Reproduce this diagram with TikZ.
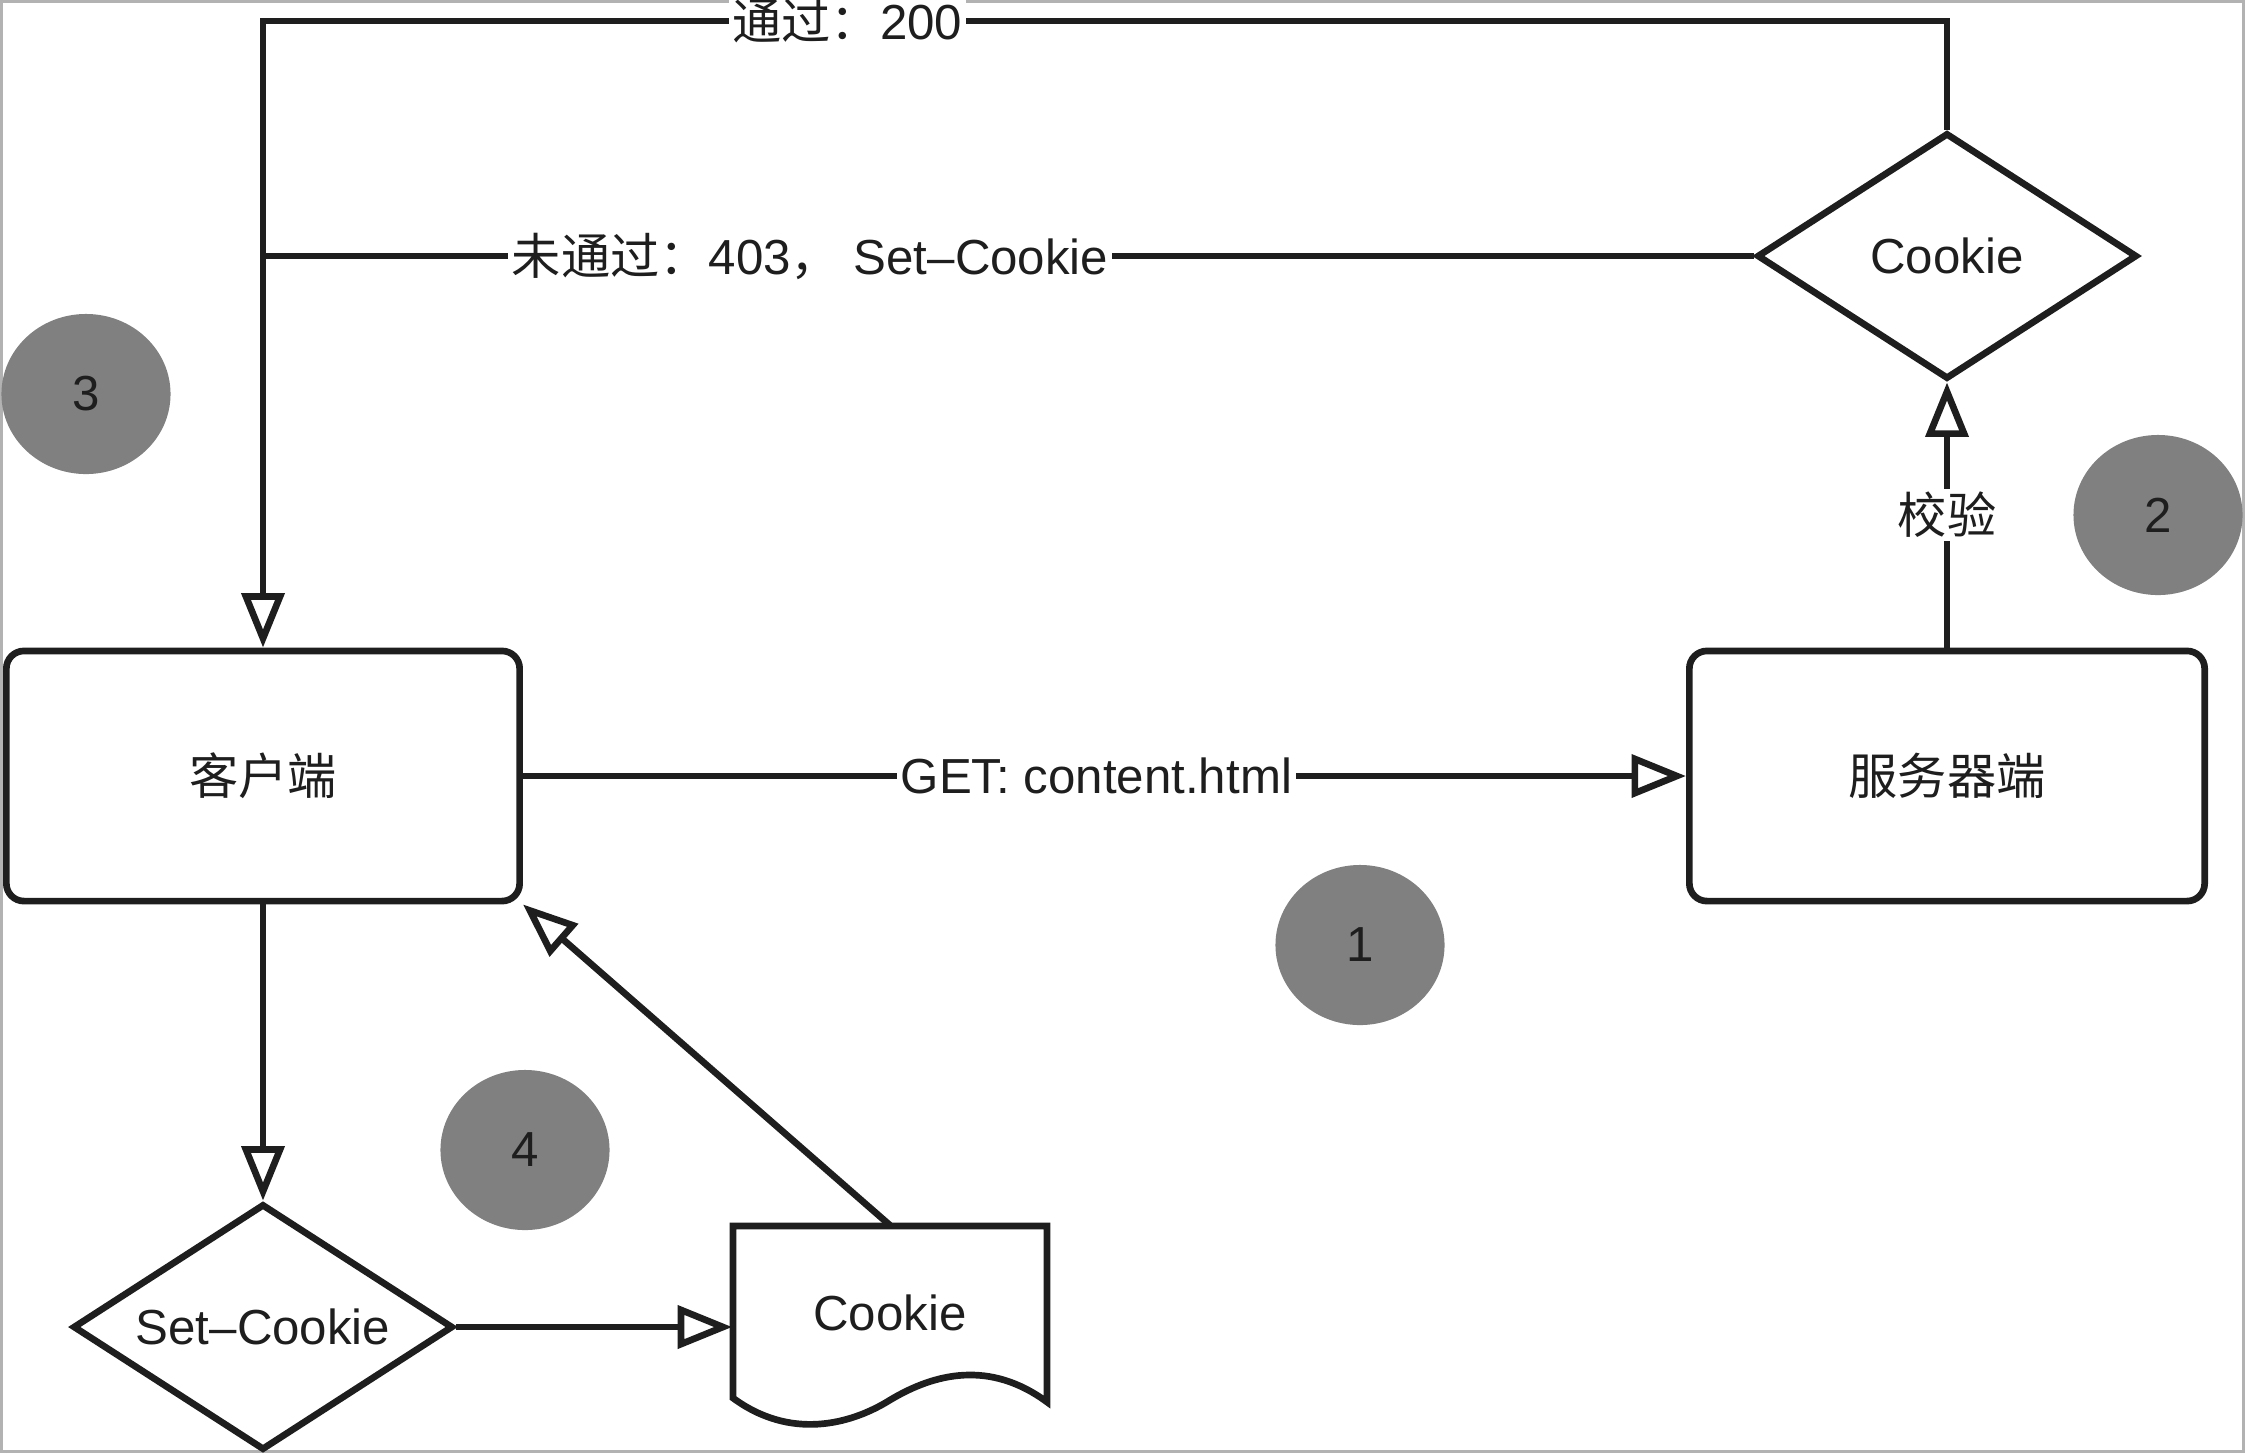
\documentclass[tikz,border=0pt]{standalone}
\usepackage{fontspec}
\setmainfont{Liberation Sans}
\newfontfamily\cjk{Noto Sans CJK SC}
\usetikzlibrary{arrows.meta,shapes.geometric}
\definecolor{badgegray}{HTML}{808080}
\definecolor{ink}{HTML}{1E1E1E}
\begin{document}
\begin{tikzpicture}[x=0.01cm,y=-0.01cm,
  every node/.style={font=\fontsize{14}{17}\selectfont, text=ink},
  ln/.style={line width=1.9pt, draw=ink},
  arr/.style={ln, -{Triangle[length=15.5pt,width=12pt,fill=white]}},
  box/.style={ln, rounded corners=5pt, minimum width=5.13cm, minimum height=2.5cm},
  dia/.style={diamond, ln, aspect=1.55, minimum width=3.8cm, minimum height=2.46cm, inner sep=0pt},
  lab/.style={fill=white, inner sep=1pt},
  badge/.style={ellipse, fill=badgegray, minimum width=1.69cm, minimum height=1.6cm}]
\useasboundingbox (0,0) rectangle (2245,1453);
\draw[gray!60, line width=0.8pt] (1.5,1.5) rectangle (2243.5,1451.5);

% nodes
\node[box] (client) at (263,776) {\cjk 客户端};
\node[box, minimum width=5.15cm] (server) at (1947,776) {\cjk 服务器端};
\node[dia] (ck) at (1947,256) {Cookie};
\node[dia] (setck) at (263,1327) {Set–Cookie};
\node[minimum width=3.14cm, minimum height=1.74cm, inner sep=0pt] (doc) at (890,1313) {Cookie};
\draw[ln] (733,1226) -- (1047,1226) -- (1047,1402)
  .. controls (990,1360) and (935,1373) .. (890,1400)
  .. controls (850,1425) and (790,1440) .. (733,1398) -- cycle;

% badges
\node[badge] (b1) at (1360,945) {1};
\node[badge] (b2) at (2158,515) {2};
\node[badge] (b3) at (86,394) {3};
\node[badge] (b4) at (525,1150) {4};

% connectors
\coordinate (tr) at (1947,21);
\coordinate (tl) at (263,21);
\coordinate (j) at (263,256);
\draw[arr] (ck.north) -- (tr) -- node[lab,pos=0.653]{{\cjk 通过：}200} (tl) -- (client.north);
\draw[ln] (ck.west) -- node[lab,pos=0.633]{{\cjk 未通过：}403{\cjk ，} Set–Cookie} (j);
\draw[arr] (client.east) -- node[lab,pos=0.493]{GET: content.html} (server.west);
\draw[arr] (server.north) -- node[lab]{\cjk 校验} (ck.south);
\draw[arr] (client.south) -- (setck.north);
\draw[arr] (setck.east) -- (setck.east -| doc.west);
\draw[arr] (doc.north) -- (client.south east);
\end{tikzpicture}
\end{document}
